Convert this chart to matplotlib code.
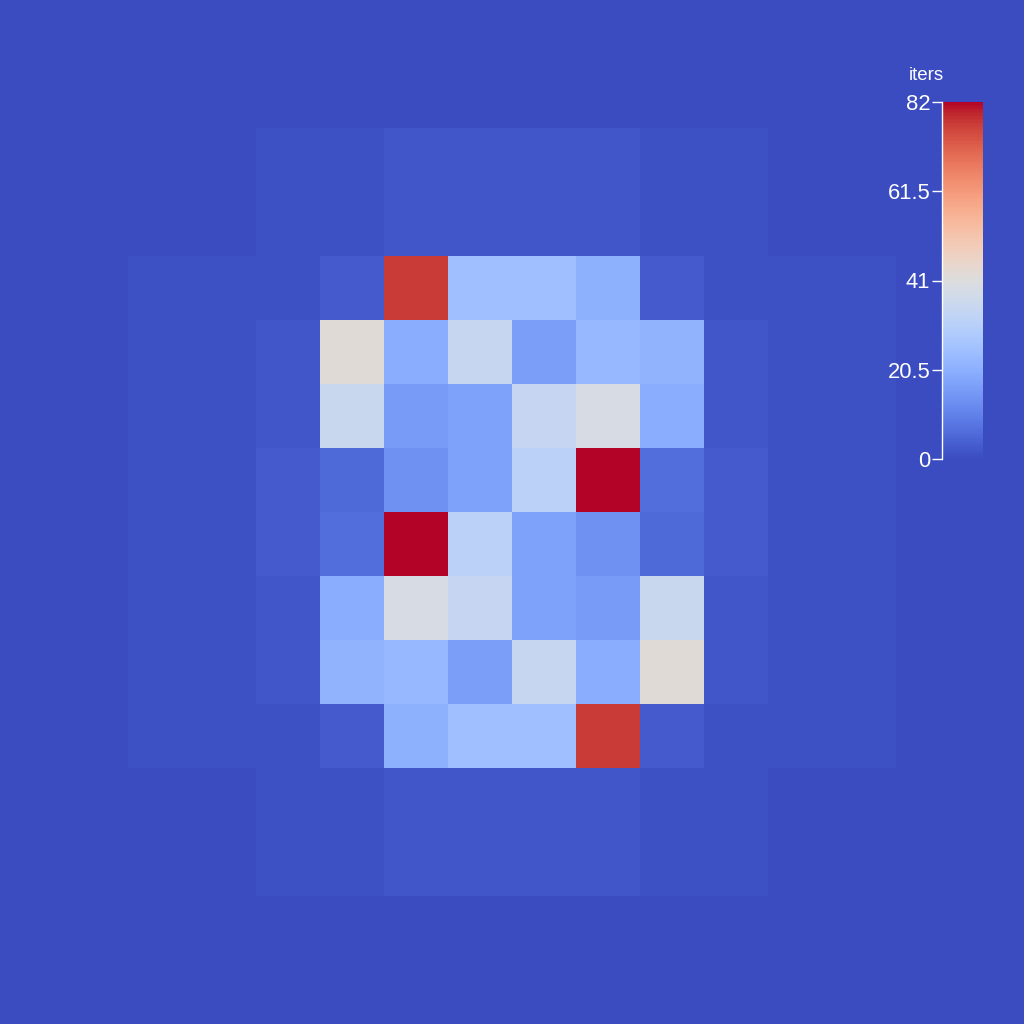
import numpy as np
import matplotlib
matplotlib.use("Agg")
import matplotlib.pyplot as plt

plt.rcParams['font.family'] = ['Liberation Sans', 'DejaVu Sans']

# iteration counts on a 16x16 grid (row 0 = top)
edge = [0] * 16
ring = [0, 0, 0, 0, 1, 1, 2, 2, 2, 2, 1, 1, 0, 0, 0, 0]
iters = [
    edge,
    edge,
    ring,
    ring,
    [0, 0, 1, 1, 1, 3, 77, 25, 25, 21, 3, 1, 1, 1, 0, 0],
    [0, 0, 1, 1, 2, 42, 20, 34.5, 16.5, 23, 21.5, 2, 1, 1, 0, 0],
    [0, 0, 1, 1, 2, 35.5, 16, 17, 34, 39, 20, 2, 1, 1, 0, 0],
    [0, 0, 1, 1, 3, 5.5, 13.5, 17, 31.5, 82, 6.5, 3, 1, 1, 0, 0],
    [0, 0, 1, 1, 3, 6.5, 82, 31.5, 17, 13.5, 5.5, 3, 1, 1, 0, 0],
    [0, 0, 1, 1, 2, 20, 39, 34, 17, 16, 35.5, 2, 1, 1, 0, 0],
    [0, 0, 1, 1, 2, 21.5, 23, 16.5, 34.5, 20, 42, 2, 1, 1, 0, 0],
    [0, 0, 1, 1, 1, 3, 21, 25, 25, 77, 3, 1, 1, 1, 0, 0],
    ring,
    ring,
    edge,
    edge,
]
zmin, zmax = 0, 82
cbar_ticks = [0, 20.5, 41, 61.5, 82]
cbar_labels = ['0', '20.5', '41', '61.5', '82']

cmap = plt.get_cmap('coolwarm')
bg = cmap(0.0)

fig = plt.figure(figsize=(10.24, 10.24), dpi=100, facecolor=bg)
ax = fig.add_axes([0, 0, 1, 1])
ax.set_facecolor(bg)
im = ax.imshow(np.array(iters), cmap=cmap, vmin=zmin, vmax=zmax,
               interpolation='nearest', extent=(0, 16, 16, 0), aspect='auto')
ax.set_axis_off()

# colorbar on the right, plotly style
cax = fig.add_axes([942 / 1024, 1 - 459 / 1024, 41 / 1024, 357 / 1024])
cb = fig.colorbar(im, cax=cax, ticks=cbar_ticks)
cb.ax.set_yticklabels(cbar_labels)
cb.ax.yaxis.set_ticks_position('left')
cb.ax.yaxis.set_label_position('left')
cb.ax.tick_params(axis='y', colors='white', labelcolor='white', length=7.2,
                  width=1, pad=1.2, labelsize=15.8)
cb.outline.set_visible(False)
cb.ax.spines['left'].set_visible(True)
cb.ax.spines['left'].set_color('white')
cb.ax.spines['left'].set_linewidth(1)

fig.text(926 / 1024, 1 - 75 / 1024, 'iters', color='white', fontsize=13.5,
         ha='center', va='center')

fig.savefig('out.png', dpi=100, facecolor=bg)
